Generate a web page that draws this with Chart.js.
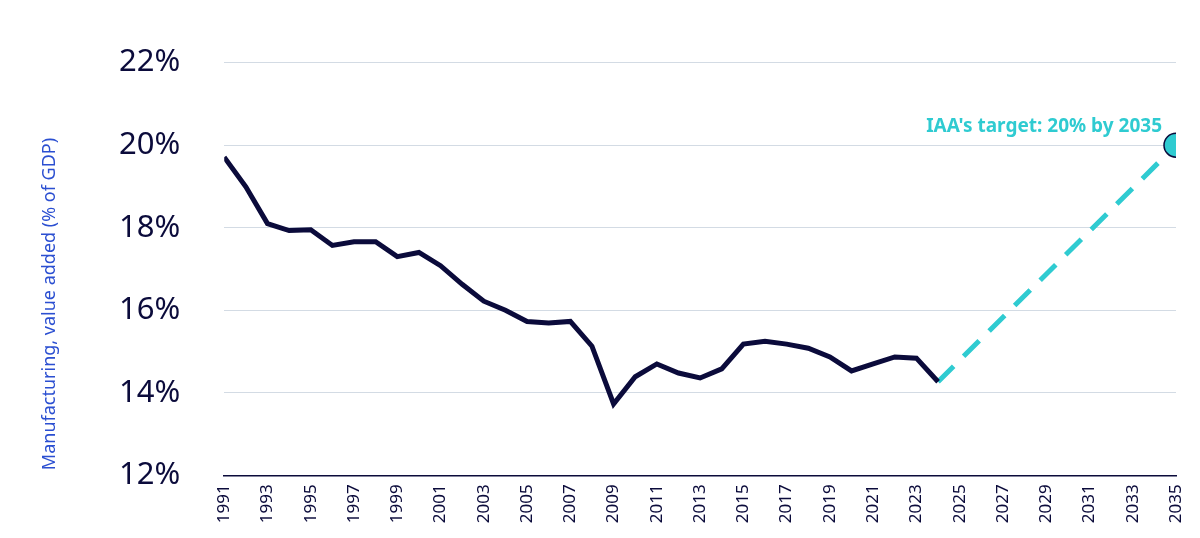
<!DOCTYPE html>
<html>
<head>
<meta charset="utf-8">
<script src="https://cdn.jsdelivr.net/npm/chart.js@4"></script>
<style>
  html, body { margin: 0; padding: 0; background: #fff; }
  #wrap { width: 1200px; height: 538px; }
</style>
</head>
<body>
<div id="wrap"><canvas id="chart"></canvas></div>
<script>
// Manufacturing, value added (% of GDP)
const years = [1991, 1992, 1993, 1994, 1995, 1996, 1997, 1998, 1999, 2000,
    2001, 2002, 2003, 2004, 2005, 2006, 2007, 2008, 2009, 2010,
    2011, 2012, 2013, 2014, 2015, 2016, 2017, 2018, 2019, 2020,
    2021, 2022, 2023, 2024];
const shares = [19.71, 18.99, 18.10, 17.93, 17.95, 17.57, 17.66, 17.66, 17.30, 17.40,
    17.08, 16.63, 16.22, 16.00, 15.73, 15.69, 15.73, 15.13, 13.73, 14.39,
    14.70, 14.48, 14.36, 14.58, 15.18, 15.25, 15.18, 15.08, 14.87, 14.53,
    14.70, 14.87, 14.84, 14.27];
const targetYears = [2024, 2035];
const targetValues = [14.27, 20];
const targetLabel = "IAA's target: 20% by 2035";
const yTitle = 'Manufacturing, value added (% of GDP)';
const yTicks = [12, 14, 16, 18, 20, 22];

const navy = '#0b0b3b';
const teal = '#2fcbd1';

const historical = years.map((y, i) => ({ x: y, y: shares[i] }));
const target = targetYears.map((y, i) => ({ x: y, y: targetValues[i] }));

// Target label and rotated y-axis title
const labelPlugin = {
    id: 'targetLabel',
    afterDatasetsDraw(chart) {
        const { ctx, scales, chartArea } = chart;
        const x = scales.x.getPixelForValue(2035);
        const y = scales.y.getPixelForValue(20);
        ctx.save();
        ctx.font = 'bold 19px "Noto Sans"';
        ctx.fillStyle = teal;
        ctx.textAlign = 'right';
        ctx.textBaseline = 'middle';
        ctx.fillText(targetLabel, x - 14, y - 19);

        ctx.translate(50, (chartArea.top + chartArea.bottom) / 2 + 35);
        ctx.rotate(-Math.PI / 2);
        ctx.font = '18px "Noto Sans"';
        ctx.fillStyle = '#2b4fd1';
        ctx.textAlign = 'center';
        ctx.fillText(yTitle, 0, 0);
        ctx.restore();
    }
};

new Chart(document.getElementById('chart'), {
    type: 'line',
    data: {
        datasets: [
            {
                data: historical,
                borderColor: navy,
                borderWidth: 5,
                pointRadius: 0,
                tension: 0
            },
            {
                data: target,
                borderColor: teal,
                borderWidth: 5,
                borderDash: [22, 14],
                pointRadius: [0, 12],
                pointBackgroundColor: teal,
                pointBorderColor: navy,
                pointBorderWidth: 1.5,
                tension: 0
            }
        ]
    },
    options: {
        responsive: true,
        maintainAspectRatio: false,
        animation: false,
        layout: { padding: { top: 6, right: 24, left: 75, bottom: 4 } },
        plugins: { legend: { display: false }, tooltip: { enabled: false } },
        scales: {
            x: {
                type: 'linear',
                min: 1991,
                max: 2035,
                afterBuildTicks(axis) {
                    axis.ticks = [];
                    for (let y = 1991; y <= 2035; y += 2) axis.ticks.push({ value: y });
                },
                grid: { display: false, drawOnChartArea: false, drawTicks: true, tickLength: 6, tickColor: navy },
                border: { color: navy, width: 1.5 },
                ticks: {
                    color: navy,
                    font: { family: 'Noto Sans', size: 17 },
                    maxRotation: 90,
                    minRotation: 90,
                    autoSkip: false,
                    callback: v => String(v)
                }
            },
            y: {
                min: 12,
                max: 22,
                afterBuildTicks(axis) {
                    axis.ticks = yTicks.map(v => ({ value: v }));
                },
                grid: { color: '#d3dbe4', lineWidth: 1, drawTicks: false },
                border: { display: false },
                ticks: {
                    color: navy,
                    font: { family: 'Noto Sans', size: 31 },
                    padding: 44,
                    callback: v => v + '%'
                }
            }
        }
    },
    plugins: [labelPlugin]
});
</script>
</body>
</html>
